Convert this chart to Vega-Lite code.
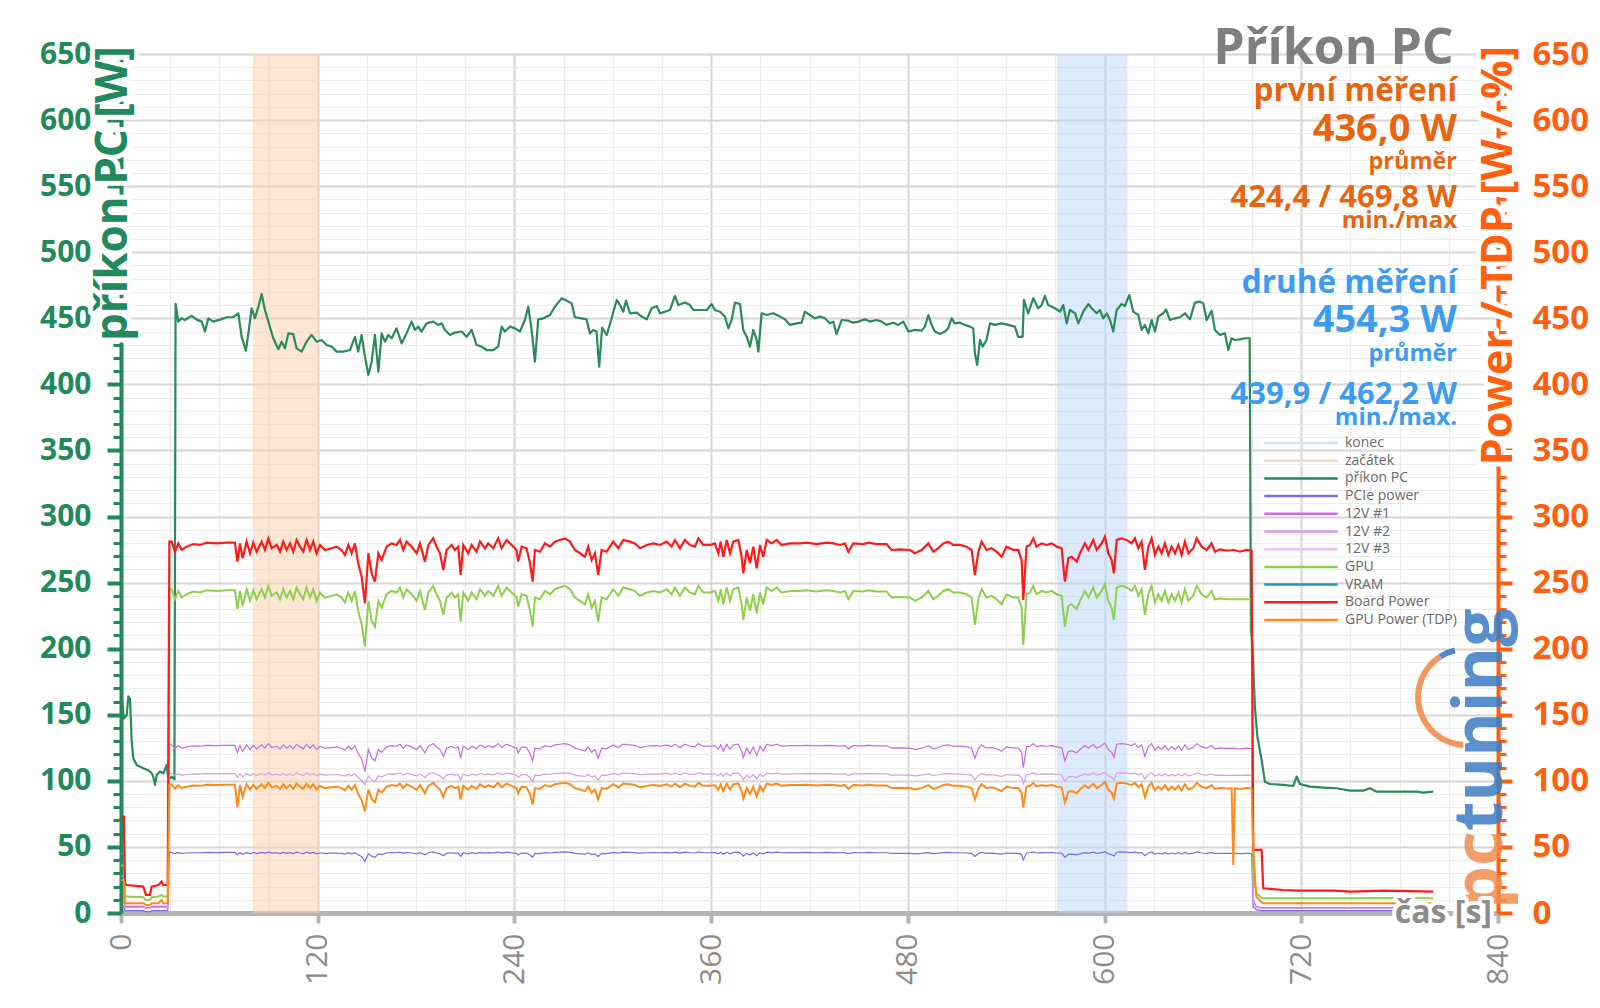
{
"$schema":"https://vega.github.io/schema/vega-lite/v6.json",
"width":1377,"height":859,
"autosize":{"type":"none"},
"padding":{"left":121,"top":54,"right":102,"bottom":95},
"background":"white",
"config":{"view":{"stroke":null},"font":"Open Sans","axis":{"labelFont":"Open Sans","titleFont":"Open Sans"},"legend":{"labelFont":"Open Sans"},"text":{"font":"Open Sans"}},
"data":{"values":[{}]},
"datasets":{
"pc":[{"t":0,"v":168},{"t":1.8,"v":147},{"t":3.5,"v":150},{"t":4.5,"v":164},{"t":5.5,"v":162},{"t":6.5,"v":131},{"t":7.5,"v":117},{"t":9.6,"v":112},{"t":13.6,"v":109.5},{"t":16.7,"v":108},{"t":18.7,"v":105.7},{"t":19.7,"v":103},{"t":20.7,"v":97},{"t":21.8,"v":104.5},{"t":23.8,"v":107},{"t":25.8,"v":105.7},{"t":27.9,"v":112},{"t":28.9,"v":101},{"t":30.9,"v":103},{"t":32.6,"v":101},{"t":33.3,"v":461},{"t":35,"v":447.5},{"t":37,"v":450},{"t":39,"v":448.7},{"t":43.1,"v":451.8},{"t":46.2,"v":449},{"t":49.2,"v":447.5},{"t":51.2,"v":440},{"t":53.3,"v":450},{"t":56.3,"v":447.5},{"t":60.4,"v":449},{"t":64.5,"v":450.8},{"t":68.5,"v":451},{"t":71.6,"v":453.8},{"t":73.6,"v":436},{"t":76.2,"v":425.5},{"t":77.7,"v":438.6},{"t":79.7,"v":457.6},{"t":81.7,"v":450},{"t":83.8,"v":458.8},{"t":85.8,"v":468.4},{"t":87.8,"v":456.3},{"t":89.9,"v":447.5},{"t":92.9,"v":434.9},{"t":96,"v":426.5},{"t":98,"v":432.3},{"t":100,"v":427.3},{"t":102.1,"v":438.6},{"t":105.1,"v":438},{"t":107.1,"v":427.3},{"t":110.2,"v":424.8},{"t":113.2,"v":432.3},{"t":116.3,"v":437.4},{"t":119.3,"v":432.3},{"t":122.4,"v":433.6},{"t":125.4,"v":429.8},{"t":128.5,"v":428.6},{"t":131.5,"v":424.8},{"t":135.6,"v":424.8},{"t":139.7,"v":426},{"t":142.7,"v":436},{"t":144.7,"v":424.8},{"t":146.8,"v":437.4},{"t":148.8,"v":421},{"t":150.9,"v":407.1},{"t":152.9,"v":417.2},{"t":154.9,"v":437.4},{"t":157,"v":409.6},{"t":159,"v":438.6},{"t":161,"v":432.3},{"t":163.1,"v":437.4},{"t":165.1,"v":434.9},{"t":168.1,"v":442.4},{"t":171.2,"v":431},{"t":174.2,"v":438.6},{"t":177.3,"v":447.5},{"t":179.3,"v":441.2},{"t":181.3,"v":443.7},{"t":183.4,"v":440},{"t":186.4,"v":446.2},{"t":190.5,"v":447.5},{"t":193.5,"v":445},{"t":195.6,"v":446.2},{"t":197.6,"v":441.2},{"t":200.7,"v":437.4},{"t":203.7,"v":439.2},{"t":207.8,"v":440},{"t":210.8,"v":436},{"t":213.9,"v":441.2},{"t":216.9,"v":429.8},{"t":220,"v":428.6},{"t":223,"v":426},{"t":227.1,"v":426},{"t":230.1,"v":428.6},{"t":232.2,"v":443.7},{"t":234.2,"v":440},{"t":237.3,"v":443.7},{"t":240.3,"v":442.4},{"t":243.4,"v":440},{"t":246.4,"v":448.7},{"t":248.4,"v":458.8},{"t":250.5,"v":441.2},{"t":252.5,"v":417.2},{"t":254.5,"v":449.2},{"t":257.6,"v":450},{"t":261.7,"v":452.5},{"t":264.7,"v":458.8},{"t":268.8,"v":465.1},{"t":271.8,"v":463.4},{"t":274.9,"v":461.3},{"t":276.9,"v":450.8},{"t":281,"v":450},{"t":284,"v":449.2},{"t":286,"v":438.6},{"t":288.1,"v":441.2},{"t":290.1,"v":440},{"t":291.7,"v":413.4},{"t":293.5,"v":443},{"t":296.3,"v":437.4},{"t":299.3,"v":450},{"t":302.4,"v":463.9},{"t":304.4,"v":460},{"t":306.4,"v":455},{"t":308.1,"v":463.4},{"t":310.5,"v":453.8},{"t":314.6,"v":454.3},{"t":317.6,"v":451.3},{"t":320.7,"v":449.2},{"t":323.7,"v":457.6},{"t":326.8,"v":459.3},{"t":328.8,"v":453.8},{"t":331.8,"v":455},{"t":334.9,"v":456.3},{"t":337.9,"v":466.9},{"t":340,"v":460},{"t":344,"v":461.9},{"t":347.1,"v":460},{"t":349.1,"v":456.3},{"t":353.2,"v":456.3},{"t":357.3,"v":456.3},{"t":360.3,"v":460.8},{"t":362.3,"v":456.3},{"t":365.4,"v":455},{"t":368.4,"v":451.3},{"t":370.5,"v":442.4},{"t":372.5,"v":448.7},{"t":374.5,"v":461.9},{"t":377.6,"v":460.8},{"t":379.6,"v":441.2},{"t":381.7,"v":436},{"t":383.7,"v":428.6},{"t":385.7,"v":441.2},{"t":387.8,"v":433.6},{"t":388.8,"v":424.8},{"t":390.8,"v":453.8},{"t":393.9,"v":452.5},{"t":397.9,"v":453.8},{"t":402,"v":451.3},{"t":405,"v":449.2},{"t":408.1,"v":445},{"t":412.1,"v":446.2},{"t":415.2,"v":446.7},{"t":417.2,"v":455},{"t":420.3,"v":452.5},{"t":423.3,"v":450},{"t":426.4,"v":451.3},{"t":429.4,"v":450},{"t":432.5,"v":446.2},{"t":434.5,"v":447.5},{"t":436.5,"v":438.1},{"t":439.6,"v":448.7},{"t":443.7,"v":448.2},{"t":446.7,"v":446.7},{"t":449.8,"v":447.5},{"t":453.8,"v":449.2},{"t":456.9,"v":447.5},{"t":460.9,"v":448.7},{"t":464,"v":447.5},{"t":467,"v":445},{"t":471.1,"v":446.7},{"t":474.2,"v":445},{"t":477.2,"v":447.5},{"t":480.3,"v":440},{"t":484.3,"v":441.2},{"t":488.4,"v":440.7},{"t":490.4,"v":443.7},{"t":492.5,"v":452.5},{"t":494.5,"v":445},{"t":496.5,"v":440},{"t":499.6,"v":438.1},{"t":502.6,"v":440},{"t":504.6,"v":442.4},{"t":506.7,"v":450},{"t":508.7,"v":446.2},{"t":511.8,"v":446.7},{"t":514.8,"v":445},{"t":517.9,"v":443.7},{"t":519.9,"v":442.4},{"t":520.9,"v":423.5},{"t":522.3,"v":414.7},{"t":524,"v":433.6},{"t":525.6,"v":428.6},{"t":528,"v":433.6},{"t":530.1,"v":446.2},{"t":533.1,"v":445},{"t":537.2,"v":446.2},{"t":541.2,"v":445},{"t":545.3,"v":443.7},{"t":547.3,"v":436},{"t":550,"v":436},{"t":550.8,"v":463.9},{"t":553.4,"v":453.8},{"t":556.5,"v":465.1},{"t":559.5,"v":457.6},{"t":561.6,"v":460},{"t":563.6,"v":466.9},{"t":565.6,"v":460},{"t":569.7,"v":457.6},{"t":572.8,"v":455},{"t":574.8,"v":460},{"t":576.9,"v":446.2},{"t":578.9,"v":456.3},{"t":582,"v":453.8},{"t":584,"v":446.2},{"t":587,"v":455},{"t":590.1,"v":460.8},{"t":592.1,"v":457.6},{"t":595.2,"v":453.8},{"t":597.2,"v":456.3},{"t":599.2,"v":450},{"t":601.3,"v":453.8},{"t":603.3,"v":448.7},{"t":605.3,"v":440},{"t":607.4,"v":456.3},{"t":610.4,"v":460.8},{"t":612.4,"v":459.3},{"t":615.1,"v":467.7},{"t":617.5,"v":455},{"t":620.6,"v":452.5},{"t":622.6,"v":441.2},{"t":624.6,"v":445},{"t":626.7,"v":438.6},{"t":628.7,"v":448.7},{"t":630.7,"v":440},{"t":632.8,"v":451.3},{"t":635.8,"v":453.8},{"t":637.5,"v":456.8},{"t":639.9,"v":448.7},{"t":643,"v":450},{"t":646,"v":450.8},{"t":649,"v":453.8},{"t":652.1,"v":449.2},{"t":655.1,"v":461.9},{"t":658.2,"v":462.6},{"t":660.2,"v":461.3},{"t":662.3,"v":448.7},{"t":665.3,"v":455.8},{"t":667.3,"v":441.2},{"t":670.4,"v":437.4},{"t":673.4,"v":438.6},{"t":675.5,"v":426},{"t":677.5,"v":434.9},{"t":679.5,"v":433.6},{"t":682.6,"v":434.1},{"t":685.6,"v":434.9},{"t":688.5,"v":434.9},{"t":689.3,"v":215},{"t":690.3,"v":200},{"t":691.7,"v":156},{"t":693.2,"v":133.5},{"t":695.8,"v":115.8},{"t":697.8,"v":99.4},{"t":700.9,"v":97.6},{"t":709,"v":96.9},{"t":715.1,"v":96.1},{"t":717.2,"v":103.2},{"t":719.2,"v":97.6},{"t":725.3,"v":95.6},{"t":733.4,"v":94.9},{"t":741.5,"v":94.4},{"t":749.7,"v":92.6},{"t":757.8,"v":92.6},{"t":761.9,"v":94.4},{"t":766,"v":91.8},{"t":774.1,"v":91.8},{"t":782.2,"v":91.8},{"t":790.3,"v":91.8},{"t":794.4,"v":91.1},{"t":800.5,"v":91.8}],
"m":[{"t":0,"b":73,"g":36,"o":25,"a":45,"c":28,"p":5},{"t":1.8,"b":73,"g":36,"o":25,"a":45,"c":28,"p":5},{"t":2.4,"b":22.5,"g":12.4,"o":7.4,"a":5,"c":4,"p":2},{"t":3.5,"b":21.2,"g":12.4,"o":7.4,"a":5,"c":4,"p":1.8},{"t":13.6,"b":20,"g":12,"o":7.4,"a":5,"c":4,"p":1.8},{"t":15.2,"b":13.7,"g":9.9,"o":6,"a":4,"c":3.5,"p":1},{"t":17.7,"b":13.7,"g":9.9,"o":6,"a":4,"c":3.5,"p":1},{"t":18.7,"b":20,"g":12,"o":7.4,"a":5,"c":4,"p":1.8},{"t":22.8,"b":21.2,"g":12.4,"o":7.4,"a":5,"c":4,"p":1.8},{"t":24.8,"b":23.7,"g":13.7,"o":9.9,"a":5,"c":4,"p":1.8},{"t":25.8,"b":21.2,"g":12.4,"o":7.4,"a":5,"c":4,"p":1.8},{"t":28.5,"b":21.2,"g":12.4,"o":7.4,"a":5,"c":4,"p":1.8},{"t":29.5,"b":281,"g":245,"o":97,"a":128,"c":106,"p":46},
{"t":30.9,"b":281,"g":245,"o":97.4,"a":127.2,"c":105.6,"p":45.9},{"t":32.9,"b":273.4,"g":237.4,"o":93.9,"a":124.2,"c":104.1,"p":45},{"t":35,"b":279.7,"g":243.7,"o":96.8,"a":126.7,"c":105.3,"p":45.7},{"t":37,"b":274.7,"g":238.7,"o":94.5,"a":124.7,"c":104.3,"p":45.1},{"t":40.1,"b":277.2,"g":241.2,"o":95.6,"a":125.7,"c":104.8,"p":45.4},{"t":44.1,"b":279.2,"g":243.2,"o":96.5,"a":126.5,"c":105.2,"p":45.6},{"t":48.2,"b":278.5,"g":242.5,"o":96.2,"a":126.2,"c":105.1,"p":45.6},{"t":52.3,"b":280.2,"g":244.2,"o":97,"a":126.9,"c":105.4,"p":45.8},{"t":58.3,"b":279.7,"g":243.7,"o":96.8,"a":126.7,"c":105.3,"p":45.7},{"t":64.5,"b":280.2,"g":244.2,"o":97,"a":126.9,"c":105.4,"p":45.8},{"t":69.5,"b":280.2,"g":244.2,"o":97,"a":126.9,"c":105.4,"p":45.8},{"t":71,"b":265.9,"g":229.9,"o":80,"a":121.2,"c":102.6,"p":44},{"t":72.6,"b":279.7,"g":243.7,"o":96.8,"a":126.7,"c":105.3,"p":45.7},{"t":74.2,"b":268.4,"g":232.4,"o":88,"a":122.2,"c":103.1,"p":44.3},{"t":76.6,"b":281,"g":245,"o":97.4,"a":127.2,"c":105.6,"p":45.9},{"t":78.7,"b":272.2,"g":236.2,"o":93.4,"a":123.7,"c":103.8,"p":44.8},{"t":80.7,"b":280.2,"g":244.2,"o":97,"a":126.9,"c":105.4,"p":45.8},{"t":82.7,"b":273.4,"g":237.4,"o":93.9,"a":124.2,"c":104.1,"p":45},{"t":85.8,"b":281,"g":245,"o":97.4,"a":127.2,"c":105.6,"p":45.9},{"t":87.8,"b":274.7,"g":238.7,"o":94.5,"a":124.7,"c":104.3,"p":45.1},{"t":89.9,"b":283.5,"g":247.5,"o":98.5,"a":128.2,"c":106.1,"p":46.2},{"t":91.9,"b":276,"g":240,"o":95.1,"a":125.2,"c":104.6,"p":45.3},{"t":95,"b":278.5,"g":242.5,"o":96.2,"a":126.2,"c":105.1,"p":45.6},{"t":97,"b":273.4,"g":237.4,"o":93.9,"a":124.2,"c":104.1,"p":45},{"t":99,"b":281,"g":245,"o":97.4,"a":127.2,"c":105.6,"p":45.9},{"t":101,"b":274.7,"g":238.7,"o":94.5,"a":124.7,"c":104.3,"p":45.1},{"t":103.1,"b":279.7,"g":243.7,"o":96.8,"a":126.7,"c":105.3,"p":45.7},{"t":105.1,"b":273.4,"g":237.4,"o":93.9,"a":124.2,"c":104.1,"p":45},{"t":107.1,"b":282.3,"g":246.3,"o":97.9,"a":127.7,"c":105.9,"p":46},{"t":109.2,"b":277.2,"g":241.2,"o":95.6,"a":125.7,"c":104.8,"p":45.4},{"t":111.2,"b":273.4,"g":237.4,"o":93.9,"a":124.2,"c":104.1,"p":45},{"t":113.2,"b":282.3,"g":246.3,"o":97.9,"a":127.7,"c":105.9,"p":46},{"t":115.3,"b":274.7,"g":238.7,"o":94.5,"a":124.7,"c":104.3,"p":45.1},{"t":117.3,"b":281,"g":245,"o":97.4,"a":127.2,"c":105.6,"p":45.9},{"t":119.3,"b":272.2,"g":236.2,"o":93.4,"a":123.7,"c":103.8,"p":44.8},{"t":121.4,"b":278.5,"g":242.5,"o":96.2,"a":126.2,"c":105.1,"p":45.6},{"t":124.4,"b":274.7,"g":238.7,"o":94.5,"a":124.7,"c":104.3,"p":45.1},{"t":128.5,"b":276,"g":240,"o":95.1,"a":125.2,"c":104.6,"p":45.3},{"t":131.5,"b":277.2,"g":241.2,"o":95.6,"a":125.7,"c":104.8,"p":45.4},{"t":134.6,"b":274.7,"g":238.7,"o":94.5,"a":124.7,"c":104.3,"p":45.1},{"t":136.6,"b":270.9,"g":234.9,"o":92.8,"a":123.2,"c":103.6,"p":44.6},{"t":138.7,"b":278.5,"g":242.5,"o":96.2,"a":126.2,"c":105.1,"p":45.6},{"t":140.7,"b":272.2,"g":236.2,"o":93.4,"a":123.7,"c":103.8,"p":44.8},{"t":142.7,"b":279.7,"g":243.7,"o":96.8,"a":126.7,"c":105.3,"p":45.7},{"t":144.7,"b":264.6,"g":228.6,"o":90,"a":120.6,"c":102.3,"p":43.9},{"t":146.8,"b":254.5,"g":218.5,"o":85.4,"a":116.6,"c":100.3,"p":42.7},{"t":148.8,"b":234.4,"g":201.6,"o":77,"a":107,"c":96.9,"p":38.9},{"t":150.9,"b":272.2,"g":236.2,"o":93.4,"a":123.7,"c":103.8,"p":44.8},{"t":152.9,"b":257,"g":221,"o":86.5,"a":117.6,"c":100.8,"p":43},{"t":154.9,"b":250.7,"g":216.7,"o":83.7,"a":115.1,"c":99.5,"p":42.2},{"t":157,"b":272.2,"g":236.2,"o":93.4,"a":123.7,"c":103.8,"p":44.8},{"t":159,"b":267.1,"g":231.1,"o":91.1,"a":121.6,"c":102.8,"p":44.2},{"t":162,"b":277.2,"g":241.2,"o":95.6,"a":125.7,"c":104.8,"p":45.4},{"t":165.1,"b":279.7,"g":243.7,"o":96.8,"a":126.7,"c":105.3,"p":45.7},{"t":168.1,"b":278.5,"g":242.5,"o":96.2,"a":126.2,"c":105.1,"p":45.6},{"t":170.2,"b":282.3,"g":246.3,"o":97.9,"a":127.7,"c":105.9,"p":46},{"t":172.2,"b":274.7,"g":238.7,"o":94.5,"a":124.7,"c":104.3,"p":45.1},{"t":174.2,"b":281,"g":245,"o":97.4,"a":127.2,"c":105.6,"p":45.9},{"t":177.3,"b":277.2,"g":241.2,"o":95.6,"a":125.7,"c":104.8,"p":45.4},{"t":180.3,"b":272.2,"g":236.2,"o":93.4,"a":123.7,"c":103.8,"p":44.8},{"t":182.4,"b":279.7,"g":243.7,"o":96.8,"a":126.7,"c":105.3,"p":45.7},{"t":185.4,"b":265.9,"g":229.3,"o":90.6,"a":121.2,"c":102.6,"p":44},{"t":187.5,"b":278.5,"g":242.5,"o":96.2,"a":126.2,"c":105.1,"p":45.6},{"t":190.5,"b":283.5,"g":247.5,"o":98.5,"a":128.2,"c":106.1,"p":46.2},{"t":192.5,"b":277.2,"g":241.2,"o":95.6,"a":125.7,"c":104.8,"p":45.4},{"t":194.6,"b":272.2,"g":236.2,"o":93.4,"a":123.7,"c":103.8,"p":44.8},{"t":196.6,"b":259.6,"g":225.5,"o":87.7,"a":118.6,"c":101.3,"p":43.3},{"t":198.6,"b":274.7,"g":238.7,"o":94.5,"a":124.7,"c":104.3,"p":45.1},{"t":201.7,"b":278.5,"g":242.5,"o":96.2,"a":126.2,"c":105.1,"p":45.6},{"t":203.7,"b":274.7,"g":238.7,"o":94.5,"a":124.7,"c":104.3,"p":45.1},{"t":205.7,"b":277.2,"g":241.2,"o":95.6,"a":125.7,"c":104.8,"p":45.4},{"t":207.2,"b":255.8,"g":220.5,"o":86,"a":117.1,"c":100.6,"p":42.8},{"t":208.8,"b":278.5,"g":242.5,"o":96.2,"a":126.2,"c":105.1,"p":45.6},{"t":211.8,"b":272.2,"g":236.2,"o":93.4,"a":123.7,"c":103.8,"p":44.8},{"t":213.9,"b":278.5,"g":242.5,"o":96.2,"a":126.2,"c":105.1,"p":45.6},{"t":216.9,"b":273.4,"g":237.4,"o":93.9,"a":124.2,"c":104.1,"p":45},{"t":219,"b":281,"g":245,"o":97.4,"a":127.2,"c":105.6,"p":45.9},{"t":222,"b":276,"g":240,"o":95.1,"a":125.2,"c":104.6,"p":45.3},{"t":224,"b":279.7,"g":243.7,"o":96.8,"a":126.7,"c":105.3,"p":45.7},{"t":227.1,"b":276,"g":240,"o":95.1,"a":125.2,"c":104.6,"p":45.3},{"t":230.1,"b":283.5,"g":247.5,"o":98.5,"a":128.2,"c":106.1,"p":46.2},{"t":232.2,"b":276,"g":240,"o":95.1,"a":125.2,"c":104.6,"p":45.3},{"t":235.2,"b":282.3,"g":246.3,"o":97.9,"a":127.7,"c":105.9,"p":46},{"t":238.3,"b":278.5,"g":242.5,"o":96.2,"a":126.2,"c":105.1,"p":45.6},{"t":241.3,"b":274.7,"g":238.7,"o":94.5,"a":124.7,"c":104.3,"p":45.1},{"t":242.3,"b":265.9,"g":231.8,"o":90.6,"a":121.2,"c":102.6,"p":44},{"t":244.4,"b":277.2,"g":241.2,"o":95.6,"a":125.7,"c":104.8,"p":45.4},{"t":247.4,"b":276,"g":240,"o":95.1,"a":125.2,"c":104.6,"p":45.3},{"t":249.5,"b":264.6,"g":228.6,"o":90,"a":120.6,"c":102.3,"p":43.9},{"t":251.1,"b":250.7,"g":216.7,"o":82,"a":115.1,"c":99.5,"p":42.2},{"t":252.5,"b":274.7,"g":238.7,"o":94.5,"a":124.7,"c":104.3,"p":45.1},{"t":255.6,"b":273.4,"g":237.4,"o":93.9,"a":124.2,"c":104.1,"p":45},{"t":258.6,"b":279.7,"g":243.7,"o":96.8,"a":126.7,"c":105.3,"p":45.7},{"t":261.7,"b":277.2,"g":241.2,"o":95.6,"a":125.7,"c":104.8,"p":45.4},{"t":264.7,"b":281,"g":245,"o":97.4,"a":127.2,"c":105.6,"p":45.9},{"t":267.7,"b":282.3,"g":246.3,"o":97.9,"a":127.7,"c":105.9,"p":46},{"t":270.8,"b":283.5,"g":247.5,"o":98.5,"a":128.2,"c":106.1,"p":46.2},{"t":273.9,"b":281,"g":245,"o":97.4,"a":127.2,"c":105.6,"p":45.9},{"t":276.9,"b":274.7,"g":238.7,"o":94.5,"a":124.7,"c":104.3,"p":45.1},{"t":280,"b":272.2,"g":236.2,"o":93.4,"a":123.7,"c":103.8,"p":44.8},{"t":283,"b":269.6,"g":233.6,"o":92.2,"a":122.6,"c":103.3,"p":44.5},{"t":285,"b":277.2,"g":241.2,"o":95.6,"a":125.7,"c":104.8,"p":45.4},{"t":287.1,"b":267.1,"g":231.1,"o":91.1,"a":121.6,"c":102.8,"p":44.2},{"t":289.1,"b":272.2,"g":236.2,"o":93.4,"a":123.7,"c":103.8,"p":44.8},{"t":291.1,"b":255.8,"g":220.5,"o":86,"a":117.1,"c":100.6,"p":42.8},{"t":293.2,"b":274.7,"g":238.7,"o":94.5,"a":124.7,"c":104.3,"p":45.1},{"t":296.2,"b":273.4,"g":237.4,"o":93.9,"a":124.2,"c":104.1,"p":45},{"t":300.3,"b":281,"g":245,"o":97.4,"a":127.2,"c":105.6,"p":45.9},{"t":303.4,"b":276,"g":240,"o":95.1,"a":125.2,"c":104.6,"p":45.3},{"t":306.4,"b":282.3,"g":246.3,"o":97.9,"a":127.7,"c":105.9,"p":46},{"t":310.5,"b":281,"g":245,"o":97.4,"a":127.2,"c":105.6,"p":45.9},{"t":313.5,"b":279.7,"g":243.7,"o":96.8,"a":126.7,"c":105.3,"p":45.7},{"t":316.6,"b":276,"g":240,"o":95.1,"a":125.2,"c":104.6,"p":45.3},{"t":320.7,"b":278.5,"g":242.5,"o":96.2,"a":126.2,"c":105.1,"p":45.6},{"t":324.7,"b":279.7,"g":243.7,"o":96.8,"a":126.7,"c":105.3,"p":45.7},{"t":328.8,"b":278.5,"g":242.5,"o":96.2,"a":126.2,"c":105.1,"p":45.6},{"t":332.9,"b":281,"g":245,"o":97.4,"a":127.2,"c":105.6,"p":45.9},{"t":335.9,"b":277.2,"g":241.2,"o":95.6,"a":125.7,"c":104.8,"p":45.4},{"t":337.9,"b":282.3,"g":246.3,"o":97.9,"a":127.7,"c":105.9,"p":46},{"t":341,"b":276,"g":240,"o":95.1,"a":125.2,"c":104.6,"p":45.3},{"t":344,"b":282.3,"g":246.3,"o":97.9,"a":127.7,"c":105.9,"p":46},{"t":347.1,"b":278.5,"g":242.5,"o":96.2,"a":126.2,"c":105.1,"p":45.6},{"t":350.1,"b":277.2,"g":241.2,"o":95.6,"a":125.7,"c":104.8,"p":45.4},{"t":352.2,"b":283.5,"g":247.5,"o":98.5,"a":128.2,"c":106.1,"p":46.2},{"t":355.2,"b":278.5,"g":242.5,"o":96.2,"a":126.2,"c":105.1,"p":45.6},{"t":359.3,"b":278.5,"g":242.5,"o":96.2,"a":126.2,"c":105.1,"p":45.6},{"t":362.3,"b":279.7,"g":243.7,"o":96.8,"a":126.7,"c":105.3,"p":45.7},{"t":364.4,"b":272.2,"g":236.2,"o":93.4,"a":123.7,"c":103.8,"p":44.8},{"t":365.8,"b":281,"g":245,"o":97.4,"a":127.2,"c":105.6,"p":45.9},{"t":367.4,"b":269.6,"g":233.6,"o":92.2,"a":122.6,"c":103.3,"p":44.5},{"t":369.5,"b":282.3,"g":246.3,"o":97.9,"a":127.7,"c":105.9,"p":46},{"t":371.5,"b":272.2,"g":236.2,"o":93.4,"a":123.7,"c":103.8,"p":44.8},{"t":373.5,"b":281,"g":245,"o":97.4,"a":127.2,"c":105.6,"p":45.9},{"t":376.6,"b":282.3,"g":246.3,"o":97.9,"a":127.7,"c":105.9,"p":46},{"t":378.6,"b":269.6,"g":233.6,"o":92.2,"a":122.6,"c":103.3,"p":44.5},{"t":379.6,"b":257,"g":221.7,"o":86.5,"a":117.6,"c":100.8,"p":43},{"t":381.7,"b":274.7,"g":238.7,"o":94.5,"a":124.7,"c":104.3,"p":45.1},{"t":383.7,"b":264.6,"g":228.6,"o":90,"a":120.6,"c":102.3,"p":43.9},{"t":385.7,"b":277.2,"g":241.2,"o":95.6,"a":125.7,"c":104.8,"p":45.4},{"t":387.8,"b":260.8,"g":226.8,"o":88.3,"a":119.1,"c":101.6,"p":43.4},{"t":389.8,"b":278.5,"g":242.5,"o":96.2,"a":126.2,"c":105.1,"p":45.6},{"t":391.8,"b":269.6,"g":233.6,"o":92.2,"a":122.6,"c":103.3,"p":44.5},{"t":393.9,"b":282.3,"g":246.3,"o":97.9,"a":127.7,"c":105.9,"p":46},{"t":396.9,"b":279.7,"g":243.7,"o":96.8,"a":126.7,"c":105.3,"p":45.7},{"t":400,"b":282.3,"g":246.3,"o":97.9,"a":127.7,"c":105.9,"p":46},{"t":403,"b":278.5,"g":242.5,"o":96.2,"a":126.2,"c":105.1,"p":45.6},{"t":408.1,"b":279.7,"g":243.7,"o":96.8,"a":126.7,"c":105.3,"p":45.7},{"t":414.2,"b":279.7,"g":243.7,"o":96.8,"a":126.7,"c":105.3,"p":45.7},{"t":418.2,"b":280.2,"g":244.2,"o":97,"a":126.9,"c":105.4,"p":45.8},{"t":424.3,"b":279.2,"g":243.2,"o":96.5,"a":126.5,"c":105.2,"p":45.6},{"t":430.4,"b":280.2,"g":244.2,"o":97,"a":126.9,"c":105.4,"p":45.8},{"t":434.5,"b":279.7,"g":243.7,"o":96.8,"a":126.7,"c":105.3,"p":45.7},{"t":438.6,"b":278.5,"g":242.5,"o":96.2,"a":126.2,"c":105.1,"p":45.6},{"t":441.6,"b":279.7,"g":243.7,"o":96.8,"a":126.7,"c":105.3,"p":45.7},{"t":443.7,"b":273.4,"g":237.4,"o":93.9,"a":124.2,"c":104.1,"p":45},{"t":446.7,"b":279.7,"g":243.7,"o":96.8,"a":126.7,"c":105.3,"p":45.7},{"t":452.8,"b":279.2,"g":243.2,"o":96.5,"a":126.5,"c":105.2,"p":45.6},{"t":455.9,"b":280.2,"g":244.2,"o":97,"a":126.9,"c":105.4,"p":45.8},{"t":460.9,"b":279.2,"g":243.2,"o":96.5,"a":126.5,"c":105.2,"p":45.6},{"t":467,"b":279.2,"g":243.2,"o":96.5,"a":126.5,"c":105.2,"p":45.6},{"t":470.1,"b":274.7,"g":238.7,"o":94.5,"a":124.7,"c":104.3,"p":45.1},{"t":475.2,"b":275.2,"g":239.2,"o":94.7,"a":124.9,"c":104.4,"p":45.2},{"t":481.3,"b":274.7,"g":238.7,"o":94.5,"a":124.7,"c":104.3,"p":45.1},{"t":484.3,"b":272.2,"g":236.2,"o":93.4,"a":123.7,"c":103.8,"p":44.8},{"t":488.4,"b":274.7,"g":238.7,"o":94.5,"a":124.7,"c":104.3,"p":45.1},{"t":492.5,"b":279.7,"g":243.7,"o":96.8,"a":126.7,"c":105.3,"p":45.7},{"t":495.5,"b":273.4,"g":237.4,"o":93.9,"a":124.2,"c":104.1,"p":45},{"t":498.6,"b":276,"g":240,"o":95.1,"a":125.2,"c":104.6,"p":45.3},{"t":501.6,"b":279.7,"g":243.7,"o":96.8,"a":126.7,"c":105.3,"p":45.7},{"t":504.6,"b":281,"g":245,"o":97.4,"a":127.2,"c":105.6,"p":45.9},{"t":507.7,"b":278.5,"g":242.5,"o":96.2,"a":126.2,"c":105.1,"p":45.6},{"t":511.8,"b":278.5,"g":242.5,"o":96.2,"a":126.2,"c":105.1,"p":45.6},{"t":515.8,"b":277.2,"g":241.2,"o":95.6,"a":125.7,"c":104.8,"p":45.4},{"t":518.9,"b":274.7,"g":238.7,"o":94.5,"a":124.7,"c":104.3,"p":45.1},{"t":520.9,"b":255.8,"g":218,"o":86,"a":117.1,"c":100.6,"p":42.8},{"t":523,"b":273.4,"g":237.4,"o":93.9,"a":124.2,"c":104.1,"p":45},{"t":525,"b":281,"g":245,"o":97.4,"a":127.2,"c":105.6,"p":45.9},{"t":528,"b":274.7,"g":238.7,"o":94.5,"a":124.7,"c":104.3,"p":45.1},{"t":531.1,"b":276,"g":240,"o":95.1,"a":125.2,"c":104.6,"p":45.3},{"t":534.1,"b":273.4,"g":237.4,"o":93.9,"a":124.2,"c":104.1,"p":45},{"t":537.2,"b":269.6,"g":233.6,"o":92.2,"a":122.6,"c":103.3,"p":44.5},{"t":540.2,"b":277.2,"g":241.2,"o":95.6,"a":125.7,"c":104.8,"p":45.4},{"t":544.3,"b":274.7,"g":238.7,"o":94.5,"a":124.7,"c":104.3,"p":45.1},{"t":547.3,"b":274.7,"g":238.7,"o":94.5,"a":124.7,"c":104.3,"p":45.1},{"t":549.4,"b":267.1,"g":231.1,"o":91.1,"a":121.6,"c":102.8,"p":44.2},{"t":550.4,"b":236.9,"g":202.8,"o":80,"a":110,"c":97.5,"p":40},{"t":552.4,"b":277.2,"g":241.2,"o":95.6,"a":125.7,"c":104.8,"p":45.4},{"t":554.5,"b":278.5,"g":242.5,"o":96.2,"a":126.2,"c":105.1,"p":45.6},{"t":556.5,"b":283.5,"g":247.5,"o":98.5,"a":128.2,"c":106.1,"p":46.2},{"t":558.5,"b":277.2,"g":241.2,"o":95.6,"a":125.7,"c":104.8,"p":45.4},{"t":561.6,"b":279.7,"g":243.7,"o":96.8,"a":126.7,"c":105.3,"p":45.7},{"t":564.6,"b":278.5,"g":242.5,"o":96.2,"a":126.2,"c":105.1,"p":45.6},{"t":567.7,"b":279.7,"g":243.7,"o":96.8,"a":126.7,"c":105.3,"p":45.7},{"t":570.8,"b":277.2,"g":241.2,"o":95.6,"a":125.7,"c":104.8,"p":45.4},{"t":573.8,"b":276,"g":240,"o":95.1,"a":125.2,"c":104.6,"p":45.3},{"t":575.8,"b":250.7,"g":216.7,"o":83.7,"a":115.1,"c":99.5,"p":42.2},{"t":577.9,"b":268.4,"g":232.4,"o":91.7,"a":122.2,"c":103.1,"p":44.3},{"t":579.9,"b":269.6,"g":233.6,"o":92.2,"a":122.6,"c":103.3,"p":44.5},{"t":583,"b":265.9,"g":229.9,"o":90.6,"a":121.2,"c":102.6,"p":44},{"t":585,"b":272.2,"g":236.2,"o":93.4,"a":123.7,"c":103.8,"p":44.8},{"t":588,"b":279.7,"g":243.7,"o":96.8,"a":126.7,"c":105.3,"p":45.7},{"t":590.1,"b":274.7,"g":238.7,"o":94.5,"a":124.7,"c":104.3,"p":45.1},{"t":593.1,"b":282.3,"g":246.3,"o":97.9,"a":127.7,"c":105.9,"p":46},{"t":595.2,"b":274.7,"g":238.7,"o":94.5,"a":124.7,"c":104.3,"p":45.1},{"t":598.2,"b":279.7,"g":243.7,"o":96.8,"a":126.7,"c":105.3,"p":45.7},{"t":600.2,"b":284.8,"g":248.8,"o":99.1,"a":128.7,"c":106.4,"p":46.3},{"t":602.3,"b":272.2,"g":236.2,"o":93.4,"a":123.7,"c":103.8,"p":44.8},{"t":604.3,"b":267.1,"g":231.1,"o":91.1,"a":121.6,"c":102.8,"p":44.2},{"t":605.7,"b":257,"g":221.7,"o":86.5,"a":117.6,"c":100.8,"p":43},{"t":607.4,"b":282.3,"g":246.3,"o":97.9,"a":127.7,"c":105.9,"p":46},{"t":610.4,"b":283.5,"g":247.5,"o":98.5,"a":128.2,"c":106.1,"p":46.2},{"t":613.5,"b":282.3,"g":246.3,"o":97.9,"a":127.7,"c":105.9,"p":46},{"t":616.5,"b":279.7,"g":243.7,"o":96.8,"a":126.7,"c":105.3,"p":45.7},{"t":618.5,"b":283.5,"g":247.5,"o":98.5,"a":128.2,"c":106.1,"p":46.2},{"t":620.6,"b":276,"g":240,"o":95.1,"a":125.2,"c":104.6,"p":45.3},{"t":622.6,"b":281,"g":245,"o":97.4,"a":127.2,"c":105.6,"p":45.9},{"t":624.6,"b":259.6,"g":225.6,"o":87.7,"a":118.6,"c":101.3,"p":43.3},{"t":626.7,"b":277.2,"g":241.2,"o":95.6,"a":125.7,"c":104.8,"p":45.4},{"t":628.7,"b":283.5,"g":247.5,"o":98.5,"a":128.2,"c":106.1,"p":46.2},{"t":630.7,"b":270.9,"g":234.9,"o":92.8,"a":123.2,"c":103.6,"p":44.6},{"t":632.8,"b":277.2,"g":241.2,"o":95.6,"a":125.7,"c":104.8,"p":45.4},{"t":634.8,"b":272.2,"g":236.2,"o":93.4,"a":123.7,"c":103.8,"p":44.8},{"t":636.8,"b":279.7,"g":243.7,"o":96.8,"a":126.7,"c":105.3,"p":45.7},{"t":638.9,"b":270.9,"g":234.9,"o":92.8,"a":123.2,"c":103.6,"p":44.6},{"t":640.9,"b":277.2,"g":241.2,"o":95.6,"a":125.7,"c":104.8,"p":45.4},{"t":643,"b":272.2,"g":236.2,"o":93.4,"a":123.7,"c":103.8,"p":44.8},{"t":645,"b":278.5,"g":242.5,"o":96.2,"a":126.2,"c":105.1,"p":45.6},{"t":647,"b":270.9,"g":234.9,"o":92.8,"a":123.2,"c":103.6,"p":44.6},{"t":649,"b":281,"g":245,"o":97.4,"a":127.2,"c":105.6,"p":45.9},{"t":651.1,"b":272.2,"g":236.2,"o":93.4,"a":123.7,"c":103.8,"p":44.8},{"t":654.1,"b":276,"g":240,"o":95.1,"a":125.2,"c":104.6,"p":45.3},{"t":656.2,"b":283.5,"g":247.5,"o":98.5,"a":128.2,"c":106.1,"p":46.2},{"t":659.2,"b":277.2,"g":241.2,"o":95.6,"a":125.7,"c":104.8,"p":45.4},{"t":662.3,"b":274.7,"g":238.7,"o":94.5,"a":124.7,"c":104.3,"p":45.1},{"t":665.3,"b":279.7,"g":243.7,"o":96.8,"a":126.7,"c":105.3,"p":45.7},{"t":667.3,"b":273.4,"g":237.4,"o":93.9,"a":124.2,"c":104.1,"p":45},{"t":670.4,"b":275.2,"g":238,"o":94.7,"a":124.9,"c":104.4,"p":45.2},{"t":674.5,"b":274.2,"g":237.5,"o":94.3,"a":124.5,"c":104.2,"p":45.1},{"t":677.5,"b":274.5,"g":237.4,"o":94.4,"a":124.6,"c":104.2,"p":45.1},{"t":678.5,"b":274.7,"g":237.4,"o":36.4,"a":124.7,"c":104.3,"p":45.1},{"t":679.5,"b":274.5,"g":237.4,"o":94.4,"a":124.6,"c":104.2,"p":45.1},{"t":682.6,"b":273.4,"g":237.4,"o":93.9,"a":124.2,"c":104.1,"p":45},{"t":686.6,"b":274.7,"g":237.4,"o":94.5,"a":124.7,"c":104.3,"p":45.1},{"t":689.7,"b":274.2,"g":237.4,"o":94.3,"a":124.5,"c":104.2,"p":45.1},{"t":690.7,"b":47.7,"g":30,"o":50,"a":10,"c":8,"p":4.8},{"t":692.5,"b":47.7,"g":15,"o":12.4,"a":5,"c":4,"p":2.5},{"t":695.8,"b":47.7,"g":11.5,"o":8,"a":4,"c":3.5,"p":1.8},{"t":696.8,"b":18.7,"g":11.1,"o":7.4,"a":4,"c":3.5,"p":1.8},{"t":709,"b":17.4,"g":11.1,"o":7.4,"a":4,"c":3.5,"p":1.8},{"t":719,"b":16.9,"g":11.1,"o":7.4,"a":4,"c":3.5,"p":1.8},{"t":740,"b":16.9,"g":11.1,"o":7.4,"a":4,"c":3.5,"p":1.8},{"t":750,"b":16.2,"g":11.1,"o":7.4,"a":4,"c":3.5,"p":1.8},{"t":770,"b":16.9,"g":11.4,"o":7.4,"a":4,"c":3.5,"p":1.8},{"t":800.5,"b":16.2,"g":11.1,"o":7.4,"a":4,"c":3.5,"p":1.8}]
},
"resolve":{"scale":{"y":"independent"}},
"layer":[
{"data":{"name":"pc"},"mark":{"type":"line","opacity":0},
 "encoding":{
  "x":{"field":"t","type":"quantitative","scale":{"domain":[0,840],"nice":false,"zero":false},
   "axis":{"orient":"bottom","values":[0,15,30,45,60,75,90,105,120,135,150,165,180,195,210,225,240,255,270,285,300,315,330,345,360,375,390,405,420,435,450,465,480,495,510,525,540,555,570,585,600,615,630,645,660,675,690,705,720,735,750,765,780,795,810,825,840],
    "labelExpr":"datum.value % 120 === 0 ? datum.label : ''","labelAngle":270,"labelFlush":false,"labelOverlap":false,"labelColor":"#8c8c8c","labelFontSize":30,"labelPadding":10,
    "grid":true,"gridColor":{"condition":{"test":"datum.value % 120 === 0","value":"#d6d6d6"},"value":"#ececec"},"gridWidth":{"condition":{"test":"datum.value % 120 === 0","value":2},"value":1.2},
    "domainColor":"#b4b4b4","domainWidth":5,"tickColor":{"condition":{"test":"datum.value % 120 === 0","value":"#b4b4b4"},"value":"transparent"},"tickWidth":4,"tickSize":10,
    "title":null}},
  "y":{"field":"v","type":"quantitative","scale":{"domain":[0,650],"nice":false},
   "axis":{"orient":"left","values":[0,10,20,30,40,50,60,70,80,90,100,110,120,130,140,150,160,170,180,190,200,210,220,230,240,250,260,270,280,290,300,310,320,330,340,350,360,370,380,390,400,410,420,430,440,450,460,470,480,490,500,510,520,530,540,550,560,570,580,590,600,610,620,630,640,650],
    "labelExpr":"datum.value % 50 === 0 ? datum.label : ''","labelFlush":false,"labelOverlap":false,"labelColor":"#21895b","labelFontSize":30,"labelFontWeight":"bold","labelPadding":16,
    "grid":true,"gridColor":{"condition":{"test":"datum.value % 50 === 0","value":"#d6d6d6"},"value":"#ececec"},"gridWidth":{"condition":{"test":"datum.value % 50 === 0","value":2},"value":1.2},
    "domainColor":"#21895b","domainWidth":4,"tickColor":"#21895b","tickWidth":{"condition":{"test":"datum.value % 50 === 0","value":4},"value":3},"tickSize":{"condition":{"test":"datum.value % 50 === 0","value":14},"value":8},
    "title":null}}}},
{"data":{"values":[{"s":80.5,"e":121}]},"mark":{"type":"rect","color":"#fbd3b1","opacity":0.55},"encoding":{"x":{"field":"s","type":"quantitative","scale":{"domain":[0,840],"nice":false,"zero":false}},"x2":{"field":"e"}}},
{"data":{"values":[{"s":571,"e":614}]},"mark":{"type":"rect","color":"#bcd6f9","opacity":0.5},"encoding":{"x":{"field":"s","type":"quantitative","scale":{"domain":[0,840],"nice":false,"zero":false}},"x2":{"field":"e"}}},
{"mark":{"type":"arc","radius":51,"radius2":45,"theta":3.2,"theta2":5.72,"color":"#f28c4e","opacity":0.9},"encoding":{"x":{"datum":820.5,"type":"quantitative","scale":{"domain":[0,840],"nice":false,"zero":false}},"y":{"datum":163.4,"scale":{"domain":[0,650],"nice":false},"axis":null}}},
{"mark":{"type":"arc","radius":51,"radius2":45,"theta":5.72,"theta2":6.05,"color":"#3b7cc4","opacity":0.9},"encoding":{"x":{"datum":820.5,"type":"quantitative","scale":{"domain":[0,840],"nice":false,"zero":false}},"y":{"datum":163.4,"scale":{"domain":[0,650],"nice":false},"axis":null}}},
{"mark":{"type":"text","text":"pc","angle":270,"align":"left","baseline":"middle","fontSize":68,"fontWeight":"bold","color":"#f28c4e","opacity":0.85},"encoding":{"x":{"datum":830.2,"type":"quantitative","scale":{"domain":[0,840],"nice":false,"zero":false}},"y":{"datum":3,"scale":{"domain":[0,650],"nice":false},"axis":null}}},
{"mark":{"type":"text","text":"tuning","angle":270,"align":"left","baseline":"middle","fontSize":68,"fontWeight":"bold","color":"#3b7cc4","opacity":0.85},"encoding":{"x":{"datum":830.2,"type":"quantitative","scale":{"domain":[0,840],"nice":false,"zero":false}},"y":{"datum":62,"scale":{"domain":[0,650],"nice":false},"axis":null}}},
{"data":{"name":"pc"},"mark":{"type":"line","strokeWidth":2.2,"strokeJoin":"round"},
 "encoding":{"x":{"field":"t","type":"quantitative","scale":{"domain":[0,840],"nice":false,"zero":false}},
  "y":{"field":"v","type":"quantitative","scale":{"domain":[0,650],"nice":false},"axis":null},
  "color":{"datum":"příkon PC","scale":{"domain":["konec","začátek","příkon PC","PCIe power","12V #1","12V #2","12V #3","GPU","VRAM","Board Power","GPU Power (TDP)"],"range":["#cfe2f8","#fbd9bd","#2a8a5c","#7b6be8","#c86be0","#dc9be8","#ecc2f2","#8fcf4f","#1b9ac5","#ff1a1a","#ff8a1a"]},
   "legend":{"orient":"none","legendX":1142,"legendY":381,"title":null,"symbolType":"stroke","symbolSize":5400,"symbolStrokeWidth":2.5,"labelFontSize":14,"labelColor":"#6a6a6a","clipHeight":16,"rowPadding":1.7,"labelOffset":6}}}},
{"data":{"name":"m"},"mark":{"type":"line","strokeWidth":1.2},"encoding":{"x":{"field":"t","type":"quantitative","scale":{"domain":[0,840],"nice":false,"zero":false}},"y":{"field":"p","type":"quantitative","scale":{"domain":[0,650],"nice":false},"axis":null},"color":{"datum":"PCIe power","scale":{"domain":["konec","začátek","příkon PC","PCIe power","12V #1","12V #2","12V #3","GPU","VRAM","Board Power","GPU Power (TDP)"],"range":["#cfe2f8","#fbd9bd","#2a8a5c","#7b6be8","#c86be0","#dc9be8","#ecc2f2","#8fcf4f","#1b9ac5","#ff1a1a","#ff8a1a"]}}}},
{"data":{"name":"m"},"mark":{"type":"line","strokeWidth":1.2},"encoding":{"x":{"field":"t","type":"quantitative","scale":{"domain":[0,840],"nice":false,"zero":false}},"y":{"field":"a","type":"quantitative","scale":{"domain":[0,650],"nice":false},"axis":null},"color":{"datum":"12V #1","scale":{"domain":["konec","začátek","příkon PC","PCIe power","12V #1","12V #2","12V #3","GPU","VRAM","Board Power","GPU Power (TDP)"],"range":["#cfe2f8","#fbd9bd","#2a8a5c","#7b6be8","#c86be0","#dc9be8","#ecc2f2","#8fcf4f","#1b9ac5","#ff1a1a","#ff8a1a"]}}}},
{"data":{"name":"m"},"mark":{"type":"line","strokeWidth":1.2},"encoding":{"x":{"field":"t","type":"quantitative","scale":{"domain":[0,840],"nice":false,"zero":false}},"y":{"field":"c","type":"quantitative","scale":{"domain":[0,650],"nice":false},"axis":null},"color":{"datum":"12V #2","scale":{"domain":["konec","začátek","příkon PC","PCIe power","12V #1","12V #2","12V #3","GPU","VRAM","Board Power","GPU Power (TDP)"],"range":["#cfe2f8","#fbd9bd","#2a8a5c","#7b6be8","#c86be0","#dc9be8","#ecc2f2","#8fcf4f","#1b9ac5","#ff1a1a","#ff8a1a"]}}}},
{"data":{"name":"m"},"mark":{"type":"line","strokeWidth":2},"encoding":{"x":{"field":"t","type":"quantitative","scale":{"domain":[0,840],"nice":false,"zero":false}},"y":{"field":"g","type":"quantitative","scale":{"domain":[0,650],"nice":false},"axis":null},"color":{"datum":"GPU","scale":{"domain":["konec","začátek","příkon PC","PCIe power","12V #1","12V #2","12V #3","GPU","VRAM","Board Power","GPU Power (TDP)"],"range":["#cfe2f8","#fbd9bd","#2a8a5c","#7b6be8","#c86be0","#dc9be8","#ecc2f2","#8fcf4f","#1b9ac5","#ff1a1a","#ff8a1a"]}}}},
{"data":{"name":"m"},"mark":{"type":"line","strokeWidth":2.2},"encoding":{"x":{"field":"t","type":"quantitative","scale":{"domain":[0,840],"nice":false,"zero":false}},"y":{"field":"b","type":"quantitative","scale":{"domain":[0,650],"nice":false},"axis":null},"color":{"datum":"Board Power","scale":{"domain":["konec","začátek","příkon PC","PCIe power","12V #1","12V #2","12V #3","GPU","VRAM","Board Power","GPU Power (TDP)"],"range":["#cfe2f8","#fbd9bd","#2a8a5c","#7b6be8","#c86be0","#dc9be8","#ecc2f2","#8fcf4f","#1b9ac5","#ff1a1a","#ff8a1a"]}}}},
{"data":{"name":"m"},"mark":{"type":"line","strokeWidth":2},"encoding":{"x":{"field":"t","type":"quantitative","scale":{"domain":[0,840],"nice":false,"zero":false}},"y":{"field":"o","type":"quantitative","scale":{"domain":[0,650],"nice":false},
  "axis":{"orient":"right","values":[0,10,20,30,40,50,60,70,80,90,100,110,120,130,140,150,160,170,180,190,200,210,220,230,240,250,260,270,280,290,300,310,320,330,340,350,360,370,380,390,400,410,420,430,440,450,460,470,480,490,500,510,520,530,540,550,560,570,580,590,600,610,620,630,640,650],
   "labelExpr":"datum.value % 50 === 0 ? datum.label : ''","labelFlush":false,"labelOverlap":false,"labelColor":"#ff5f0f","labelFontSize":33,"labelFontWeight":"bold","labelPadding":20,"grid":false,
   "domainColor":"#ff5f0f","domainWidth":4,"tickColor":"#ff5f0f","tickWidth":{"condition":{"test":"datum.value % 50 === 0","value":4},"value":3},"tickSize":{"condition":{"test":"datum.value % 50 === 0","value":14},"value":8},
   "title":null}},
 "color":{"datum":"GPU Power (TDP)","scale":{"domain":["konec","začátek","příkon PC","PCIe power","12V #1","12V #2","12V #3","GPU","VRAM","Board Power","GPU Power (TDP)"],"range":["#cfe2f8","#fbd9bd","#2a8a5c","#7b6be8","#c86be0","#dc9be8","#ecc2f2","#8fcf4f","#1b9ac5","#ff1a1a","#ff8a1a"]}}}},
{"mark":{"type":"text","text":"čas [s]","align":"right","baseline":"middle","fontSize":32,"fontWeight":"bold","color":"#8c8c8c","stroke":"white","strokeWidth":8,"strokeJoin":"round"},"encoding":{"x":{"datum":836.3,"type":"quantitative","scale":{"domain":[0,840],"nice":false,"zero":false}},"y":{"datum":0,"scale":{"domain":[0,650],"nice":false},"axis":null}}},
{"mark":{"type":"text","text":"čas [s]","align":"right","baseline":"middle","fontSize":32,"fontWeight":"bold","color":"#8c8c8c"},"encoding":{"x":{"datum":836.3,"type":"quantitative","scale":{"domain":[0,840],"nice":false,"zero":false}},"y":{"datum":0,"scale":{"domain":[0,650],"nice":false},"axis":null}}},
{"mark":{"type":"text","text":"příkon PC [W]","angle":270,"align":"right","baseline":"middle","fontSize":44,"fontWeight":"bold","color":"#21895b","stroke":"white","strokeWidth":10,"strokeJoin":"round"},"encoding":{"x":{"datum":-4.5,"type":"quantitative","scale":{"domain":[0,840],"nice":false,"zero":false}},"y":{"datum":656,"scale":{"domain":[0,650],"nice":false},"axis":null}}},
{"mark":{"type":"text","text":"příkon PC [W]","angle":270,"align":"right","baseline":"middle","fontSize":44,"fontWeight":"bold","color":"#21895b"},"encoding":{"x":{"datum":-4.5,"type":"quantitative","scale":{"domain":[0,840],"nice":false,"zero":false}},"y":{"datum":656,"scale":{"domain":[0,650],"nice":false},"axis":null}}},
{"mark":{"type":"text","text":"Power / TDP [W / %]","angle":270,"align":"right","baseline":"middle","fontSize":43,"fontWeight":"bold","color":"#ff5f0f","stroke":"white","strokeWidth":10,"strokeJoin":"round"},"encoding":{"x":{"datum":840.6,"type":"quantitative","scale":{"domain":[0,840],"nice":false,"zero":false}},"y":{"datum":656,"scale":{"domain":[0,650],"nice":false},"axis":null}}},
{"mark":{"type":"text","text":"Power / TDP [W / %]","angle":270,"align":"right","baseline":"middle","fontSize":43,"fontWeight":"bold","color":"#ff5f0f"},"encoding":{"x":{"datum":840.6,"type":"quantitative","scale":{"domain":[0,840],"nice":false,"zero":false}},"y":{"datum":656,"scale":{"domain":[0,650],"nice":false},"axis":null}}},
{"mark":{"type":"text","text":"Příkon PC","align":"right","baseline":"alphabetic","fontSize":50,"fontWeight":"bold","color":"#7f7f7f"},"encoding":{"x":{"datum":813,"type":"quantitative","scale":{"domain":[0,840],"nice":false,"zero":false}},"y":{"datum":642.5,"scale":{"domain":[0,650],"nice":false},"axis":null}}},
{"mark":{"type":"text","text":"první měření","align":"right","baseline":"alphabetic","fontSize":31.5,"fontWeight":"bold","color":"#e8650f"},"encoding":{"x":{"datum":815,"type":"quantitative","scale":{"domain":[0,840],"nice":false,"zero":false}},"y":{"datum":614.5,"scale":{"domain":[0,650],"nice":false},"axis":null}}},
{"mark":{"type":"text","text":"436,0 W","align":"right","baseline":"alphabetic","fontSize":38,"fontWeight":"bold","color":"#e8650f"},"encoding":{"x":{"datum":815,"type":"quantitative","scale":{"domain":[0,840],"nice":false,"zero":false}},"y":{"datum":584,"scale":{"domain":[0,650],"nice":false},"axis":null}}},
{"mark":{"type":"text","text":"průměr","align":"right","baseline":"alphabetic","fontSize":23.5,"fontWeight":"bold","color":"#e8650f"},"encoding":{"x":{"datum":815,"type":"quantitative","scale":{"domain":[0,840],"nice":false,"zero":false}},"y":{"datum":563,"scale":{"domain":[0,650],"nice":false},"axis":null}}},
{"mark":{"type":"text","text":"424,4 / 469,8 W","align":"right","baseline":"alphabetic","fontSize":31,"fontWeight":"bold","color":"#e8650f"},"encoding":{"x":{"datum":815,"type":"quantitative","scale":{"domain":[0,840],"nice":false,"zero":false}},"y":{"datum":534.5,"scale":{"domain":[0,650],"nice":false},"axis":null}}},
{"mark":{"type":"text","text":"min./max","align":"right","baseline":"alphabetic","fontSize":24,"fontWeight":"bold","color":"#e8650f"},"encoding":{"x":{"datum":815,"type":"quantitative","scale":{"domain":[0,840],"nice":false,"zero":false}},"y":{"datum":518,"scale":{"domain":[0,650],"nice":false},"axis":null}}},
{"mark":{"type":"text","text":"druhé měření","align":"right","baseline":"alphabetic","fontSize":31.5,"fontWeight":"bold","color":"#3d9bf0"},"encoding":{"x":{"datum":815,"type":"quantitative","scale":{"domain":[0,840],"nice":false,"zero":false}},"y":{"datum":469,"scale":{"domain":[0,650],"nice":false},"axis":null}}},
{"mark":{"type":"text","text":"454,3 W","align":"right","baseline":"alphabetic","fontSize":38,"fontWeight":"bold","color":"#3d9bf0"},"encoding":{"x":{"datum":815,"type":"quantitative","scale":{"domain":[0,840],"nice":false,"zero":false}},"y":{"datum":439.5,"scale":{"domain":[0,650],"nice":false},"axis":null}}},
{"mark":{"type":"text","text":"průměr","align":"right","baseline":"alphabetic","fontSize":23.5,"fontWeight":"bold","color":"#3d9bf0"},"encoding":{"x":{"datum":815,"type":"quantitative","scale":{"domain":[0,840],"nice":false,"zero":false}},"y":{"datum":418,"scale":{"domain":[0,650],"nice":false},"axis":null}}},
{"mark":{"type":"text","text":"439,9 / 462,2 W","align":"right","baseline":"alphabetic","fontSize":31,"fontWeight":"bold","color":"#3d9bf0"},"encoding":{"x":{"datum":815,"type":"quantitative","scale":{"domain":[0,840],"nice":false,"zero":false}},"y":{"datum":385.5,"scale":{"domain":[0,650],"nice":false},"axis":null}}},
{"mark":{"type":"text","text":"min./max.","align":"right","baseline":"alphabetic","fontSize":24,"fontWeight":"bold","color":"#3d9bf0"},"encoding":{"x":{"datum":815,"type":"quantitative","scale":{"domain":[0,840],"nice":false,"zero":false}},"y":{"datum":369,"scale":{"domain":[0,650],"nice":false},"axis":null}}}
]
}
